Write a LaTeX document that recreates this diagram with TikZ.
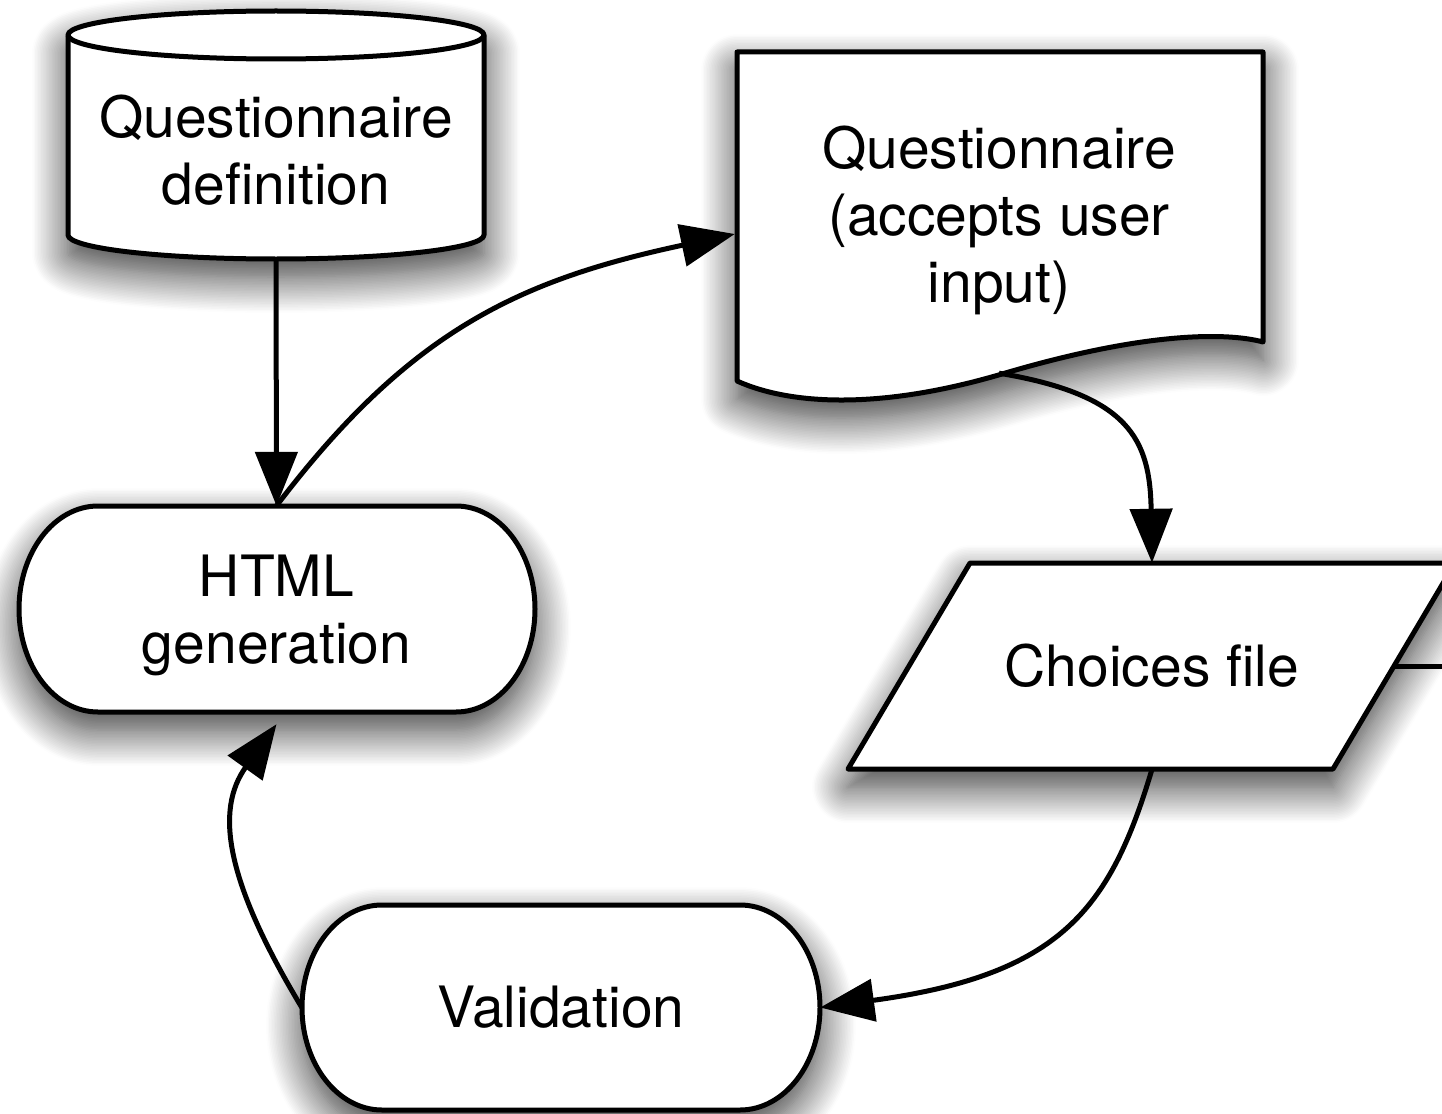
\documentclass[tikz,border=0pt]{standalone}
\usepackage{fontspec}
\setmainfont{TeX Gyre Heros}
\usetikzlibrary{arrows.meta,calc,backgrounds,shadows.blur}
\begin{document}
\begin{tikzpicture}[x=1pt,y=1pt,
  shp/.style={draw=black, line width=5pt, fill=white, line join=round,
    blur shadow={shadow xshift=0pt, shadow yshift=-18pt, shadow blur radius=36pt, shadow blur steps=24, shadow opacity=80}},
  lbl/.style={inner sep=0pt, align=center, font=\fontsize{57}{67}\selectfont},
  conn/.style={line width=5pt, -{Triangle[length=54pt,width=42pt]}},
  link/.style={line width=5pt}]
\useasboundingbox (0,0) rectangle (1442,-1113);

% nodes (text)
\node[lbl, minimum width=416pt, minimum height=216pt] (qdef) at (276,-150) {Questionnaire\\definition};
\node[lbl, minimum width=517pt, minimum height=206pt] (html) at (276.5,-615) {HTML\\generation};
\node[lbl, minimum width=528pt, minimum height=306pt] (doc) at (999,-220) {Questionnaire\\(accepts user\\input)};
\node[lbl, minimum width=485pt, minimum height=206pt] (choices) at (1152,-666) {Choices file};
\node[lbl, minimum width=518pt, minimum height=205pt] (valid) at (561,-1007.5) {Validation};
\coordinate (offedge) at (1500,-666);

% shapes
\begin{scope}[on background layer]
  % cylinder
  \path[shp] (68,-35) -- (68,-235) arc[start angle=180,end angle=360,x radius=208,y radius=24]
     -- (484,-35) arc[start angle=0,end angle=180,x radius=208,y radius=24] -- cycle;
  \draw[line width=5pt] (68,-35) arc[start angle=180,end angle=360,x radius=208,y radius=24];
  % HTML terminal
  \path[shp] (98,-506) -- (456,-506) arc[start angle=90,end angle=-90,x radius=79,y radius=103]
     -- (98,-712) arc[start angle=270,end angle=90,x radius=79,y radius=103] -- cycle;
  % Validation terminal
  \path[shp] (382,-905) -- (740,-905) arc[start angle=90,end angle=-90,x radius=80,y radius=102.5]
     -- (382,-1110) arc[start angle=270,end angle=90,x radius=80,y radius=102.5] -- cycle;
  % document
  \path[shp] (737,-52) -- (1263,-52) -- (1263,-342)
     .. controls (1230,-333) and (1150,-330) .. (1002,-374)
     .. controls (880,-410) and (790,-405) .. (737,-381) -- cycle;
  % parallelogram
  \path[shp] (848,-769) -- (1333,-769) -- (1455,-563) -- (970,-563) -- cycle;
\end{scope}

% connectors
\draw[conn] (qdef.south) -- ($(html.north)+(0,6)$);
\draw[conn] ($(html.north)+(0,6)$) .. controls (410,-330) and (520,-280) .. ($(doc.west)+(0,-14)$);
\draw[conn] (doc.south) .. controls (1130,-395) and (1150,-440) .. (choices.north);
\draw[conn] (choices.south) .. controls (1110,-910) and (1060,-975) .. (valid.east);
\draw[conn] (valid.west) .. controls (225,-880) and (215,-810) .. ($(html.south)+(0,-6)$);
\draw[link] (choices.east) -- (offedge);
\end{tikzpicture}
\end{document}
